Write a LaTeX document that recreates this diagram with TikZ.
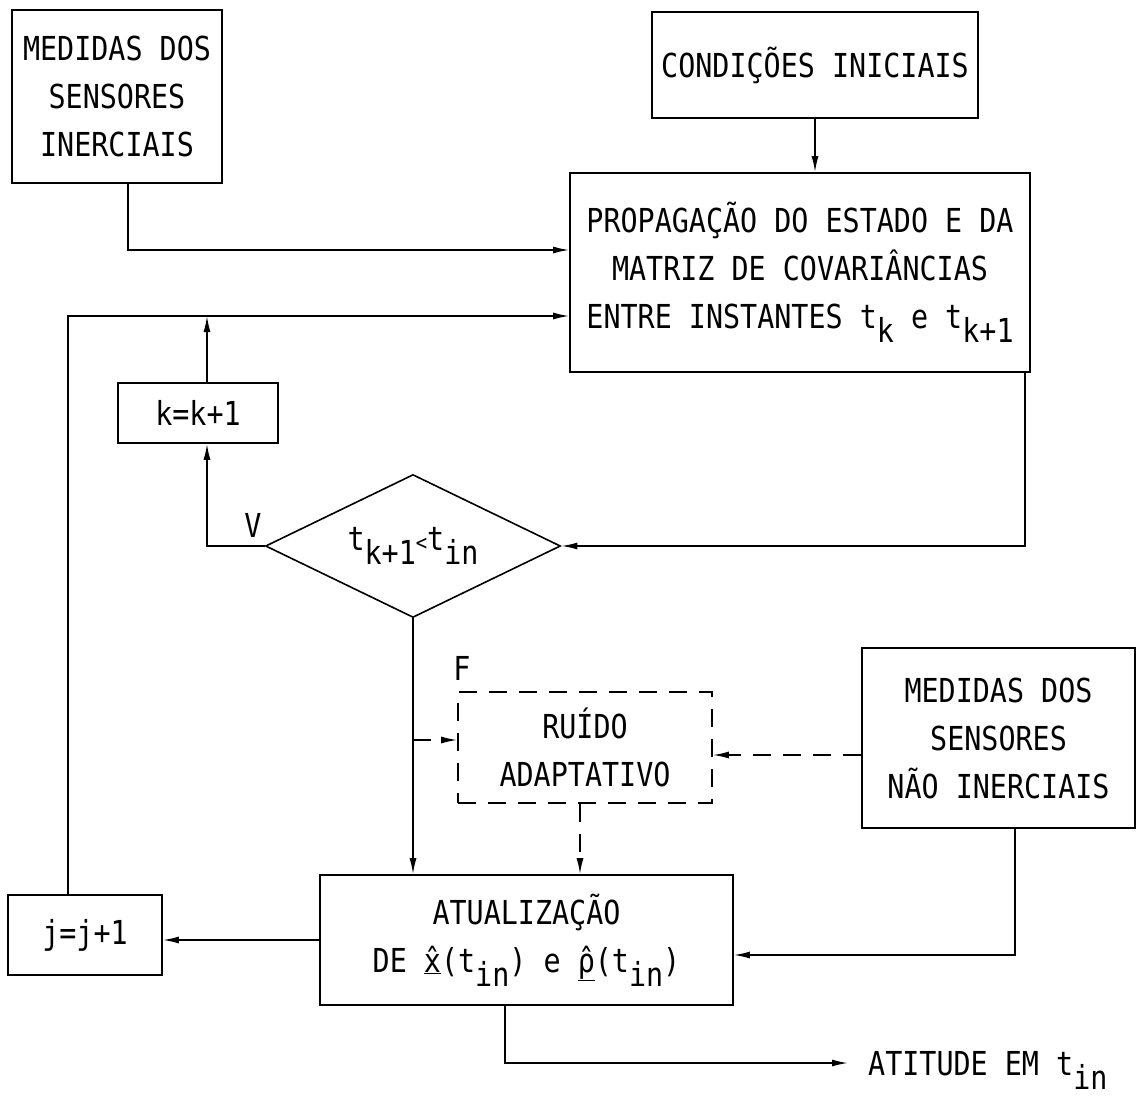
\documentclass[tikz,border=0pt]{standalone}
\usepackage{fontspec}
\usetikzlibrary{arrows.meta,shapes.geometric}
\newfontfamily\tw[FakeStretch=0.86]{DejaVu Sans Mono}
\newcommand\dn[1]{\raisebox{-14pt}{#1}}
\newcommand\hh[1]{\accent"02C6 #1}
\begin{document}
\begin{tikzpicture}[x=1pt,y=-1pt,
  font=\tw\fontsize{33}{48}\selectfont,
  box/.style={draw, line width=1.6pt, align=center, inner sep=0pt},
  dbox/.style={box, dash pattern=on 18pt off 12pt},
  arr/.style={line width=1.6pt, -{Latex[length=16pt,width=7pt]}},
  darr/.style={arr, dash pattern=on 18pt off 12pt},
  lbl/.style={inner sep=0pt}]
\fill[white] (0,0) rectangle (1139,1110);
\useasboundingbox (0,0) rectangle (1139,1110);

\node[box, minimum width=210pt, minimum height=173pt] (b1) at (117,96.5) {MEDIDAS DOS\\SENSORES\\INERCIAIS};
\node[box, minimum width=326pt, minimum height=106pt] (ci) at (815,65) {CONDIÇÕES INICIAIS};
\node[box, minimum width=460pt, minimum height=199pt] (pr) at (800,272.5) {PROPAGAÇÃO DO ESTADO E DA\\MATRIZ DE COVARIÂNCIAS\\ENTRE INSTANTES t\dn{k} e t\dn{k+1}};
\node[box, minimum width=160pt, minimum height=60pt] (kb) at (198,413) {k=k+1};
\node[draw, diamond, aspect=2, line width=1.6pt, minimum width=295pt, minimum height=143pt, inner sep=0pt] (dc) at (413,546) {t\dn{k+1}{\fontsize{22}{22}\selectfont<}t\dn{in}};
\node[dbox, minimum width=254pt, minimum height=111pt] (ra) at (585,747.5) {RUÍDO\\ADAPTATIVO};
\node[box, minimum width=273pt, minimum height=180pt] (ni) at (998.5,738) {MEDIDAS DOS\\SENSORES\\NÃO INERCIAIS};
\node[box, minimum width=413pt, minimum height=130pt] (at) at (526.5,940) {ATUALIZAÇÃO\\DE \underline{\hh{x}}(t\dn{in}) e \underline{\hh{ρ}}(t\dn{in})};
\node[box, minimum width=154pt, minimum height=80pt] (jb) at (85,935) {j=j+1};
\node[lbl, anchor=base west] (out) at (868,1075) {ATITUDE EM t\dn{in}};
\node[lbl] (lv) at (253,525) {V};
\node[lbl] (lf) at (462,668) {F};
\coordinate (oe) at (848,1063);

\draw[arr] ([xshift=11pt]b1.south) |- (pr.west |- 0,250);
\draw[arr] (ci.south) -- (pr.north -| ci.south);
\draw[arr] ([xshift=-17pt]jb.north) |- (pr.west |- 0,316);
\draw[arr] ([xshift=9pt]kb.north) -- ([xshift=9pt]kb.north |- 0,316);
\draw[arr] (dc.west) -| ([xshift=9pt]kb.south);
\draw[arr] ([xshift=225pt]pr.south) |- (dc.east);
\draw[arr] (dc.south) -- (at.north -| dc.south);
\draw[darr] (dc.south |- 0,740) -- (ra.west |- 0,740);
\draw[darr] (ni.west |- 0,755) -- (ra.east |- 0,755);
\draw[darr] ([xshift=-5pt]ra.south) -- ([xshift=-5pt]ra.south |- at.north);
\draw[arr] ([xshift=16.5pt]ni.south) |- (at.east |- 0,955);
\draw[arr] (at.west) -- (jb.east |- at.west);
\draw[arr] ([xshift=-21.5pt]at.south) |- (oe);
\end{tikzpicture}
\end{document}
